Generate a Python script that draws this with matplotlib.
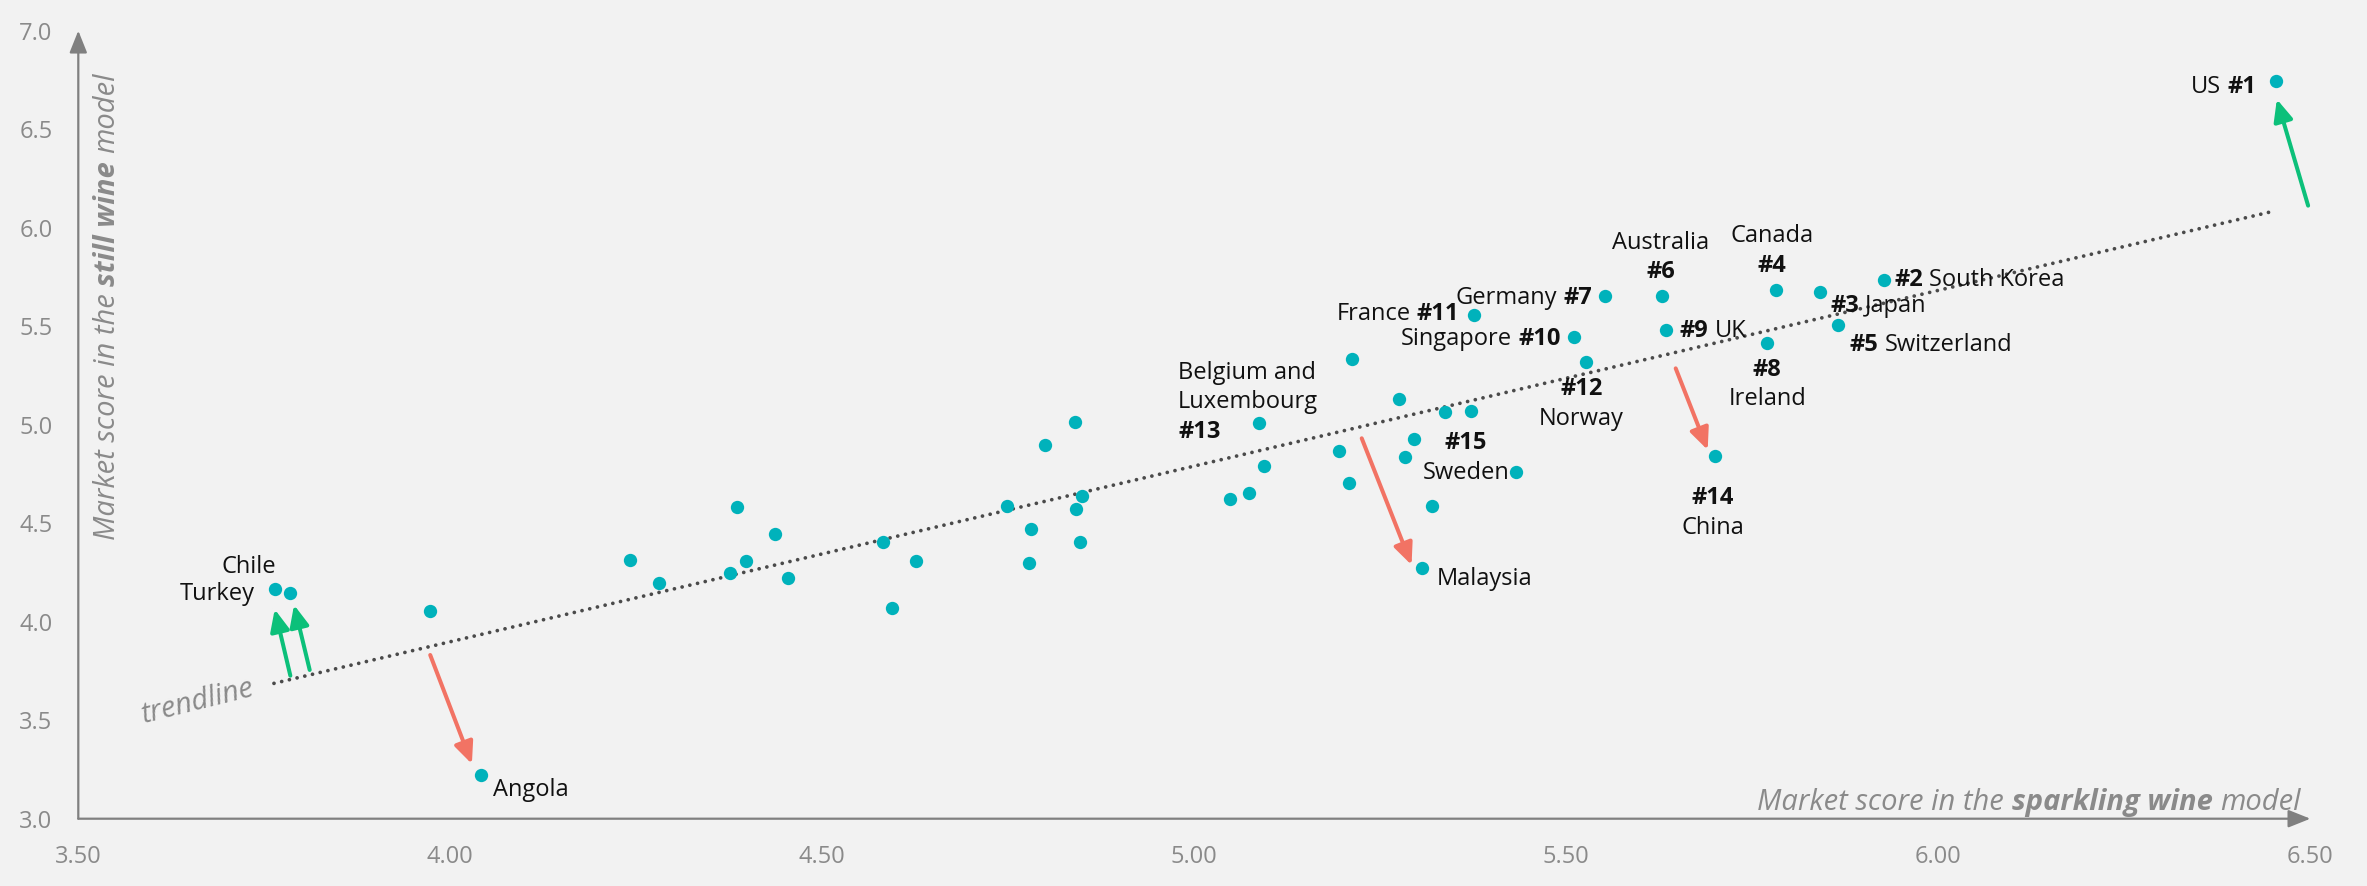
"""
Still wine vs sparkling wine market scores
Scatter of market scores with trendline, ranked markets and outlier arrows.
"""

import matplotlib.pyplot as plt
from matplotlib.offsetbox import TextArea, HPacker, VPacker, AnnotationBbox

# ============================================================================
# DATA
# ============================================================================
# Labelled markets: sparkling score (x), still score (y), rank
market_names = ['US', 'South Korea', 'Japan', 'Canada', 'Switzerland', 'Australia',
                'Germany', 'Ireland', 'UK', 'Singapore', 'France', 'Norway',
                'Belgium and\nLuxembourg', 'China', 'Sweden', 'Malaysia', 'Angola',
                'Turkey', 'Chile']
market_ranks = ['#1', '#2', '#3', '#4', '#5', '#6', '#7', '#8', '#9', '#10', '#11', '#12',
                '#13', '#14', '#15', '', '', '', '']
market_x = [6.454, 5.927, 5.841, 5.782, 5.865, 5.628, 5.552, 5.770, 5.634, 5.510, 5.376,
            5.526, 5.087, 5.700, 5.433, 5.306, 4.041, 3.764, 3.784]
market_y = [6.743, 5.736, 5.672, 5.684, 5.508, 5.653, 5.652, 5.416, 5.482, 5.445, 5.557,
            5.320, 5.009, 4.841, 4.760, 4.271, 3.222, 4.166, 4.147]

# Unlabelled markets
other_x = [3.973, 4.241, 4.280, 4.385, 4.437, 4.398, 4.376, 4.454, 4.582, 4.626, 4.594,
           4.748, 4.781, 4.778, 4.799, 4.840, 4.849, 4.841, 4.846, 5.212, 5.275, 5.337,
           5.372, 5.295, 5.283, 5.194, 5.208, 5.319, 5.094, 5.074, 5.048]
other_y = [4.056, 4.313, 4.198, 4.582, 4.445, 4.307, 4.249, 4.222, 4.406, 4.307, 4.070,
           4.586, 4.469, 4.298, 4.898, 5.014, 4.640, 4.571, 4.405, 5.334, 5.129, 5.064,
           5.068, 4.926, 4.836, 4.868, 4.704, 4.587, 4.789, 4.655, 4.623]

# Trendline end points
trend_x = [3.763, 6.453]
trend_y = [3.687, 6.086]

# Arrows (tail -> tip): green = above trend, red = below trend
up_from_x = [3.785, 3.811, 6.497]
up_from_y = [3.726, 3.755, 6.112]
up_to_x = [3.764, 3.790, 6.455]
up_to_y = [4.063, 4.085, 6.652]

down_from_x = [3.973, 5.225, 5.647]
down_from_y = [3.831, 4.931, 5.286]
down_to_x = [4.029, 5.292, 5.690]
down_to_y = [3.278, 4.288, 4.872]

x_ticks = [3.5, 4.0, 4.5, 5.0, 5.5, 6.0, 6.5]
y_ticks = [3.0, 3.5, 4.0, 4.5, 5.0, 5.5, 6.0, 6.5, 7.0]

# ============================================================================
# STYLE
# ============================================================================
plt.rcParams['font.family'] = ['Open Sans', 'DejaVu Sans']

BG = '#f2f2f2'
DOT_C = '#00b2bb'
TREND_C = '#4a4a4a'
AXIS_C = '#808080'
GREY_TXT = '#8a8a8a'
TEXT_C = '#111111'
GREEN = '#0cc07a'
RED = '#f27364'
LABEL_FS = 17
AXLABEL_FS = 21

# label layout: format, ha, va, line alignment, offset (points)
label_layout = {
    'US': ('name rank', 'right', 'center', 'center', (-14.4, -4.3)),
    'South Korea': ('rank name', 'left', 'center', 'center', (7.2, 0)),
    'Japan': ('rank name', 'left', 'center', 'center', (7.2, -10)),
    'Canada': ('name/rank', 'center', 'bottom', 'center', (-2.9, 8.6)),
    'Switzerland': ('rank name', 'left', 'center', 'center', (8.6, -15)),
    'Australia': ('name/rank', 'center', 'bottom', 'center', (-0.7, 8.6)),
    'Germany': ('name rank', 'right', 'center', 'center', (-9.4, -1.4)),
    'Ireland': ('rank/name', 'center', 'top', 'center', (0, -10.8)),
    'UK': ('rank name', 'left', 'center', 'center', (10, -0.7)),
    'Singapore': ('name rank', 'right', 'center', 'center', (-9.4, -1.4)),
    'France': ('name rank', 'right', 'center', 'center', (-10.8, 0.7)),
    'Norway': ('rank/name', 'center', 'top', 'center', (-2.9, -11.2)),
    'Belgium and\nLuxembourg': ('name/rank', 'left', 'bottom', 'left', (-58.3, -15.1)),
    'China': ('rank/name', 'center', 'top', 'center', (-1.4, -21.6)),
    'Sweden': ('rank/name', 'right', 'bottom', 'center', (-5, -9.4)),
    'Malaysia': ('name', 'left', 'center', 'center', (10.8, -8)),
    'Angola': ('name', 'left', 'center', 'center', (8.6, -10.8)),
    'Turkey': ('name', 'right', 'center', 'center', (-14.4, -3.6)),
    'Chile': ('name', 'right', 'center', 'center', (-9.4, 18.5)),
}

fig = plt.figure(figsize=(23.67, 8.86), dpi=100, facecolor=BG)
ax = fig.add_axes([0.03308, 0.07596, 0.9587, 0.9005])
ax.patch.set_visible(False)
ax.set_xlim(3.5, 6.55)
ax.set_ylim(3.0, 7.05)
for s in ax.spines.values():
    s.set_visible(False)

ax.set_xticks(x_ticks)
ax.set_xticklabels([f'{v:.2f}' for v in x_ticks])
ax.set_yticks(y_ticks)
ax.set_yticklabels([f'{v:.1f}' for v in y_ticks])
ax.tick_params(length=0, labelsize=17, labelcolor=GREY_TXT)
ax.tick_params(axis='x', pad=19)
ax.tick_params(axis='y', pad=18.5)

# axis arrows
axis_arrow = dict(arrowstyle='-|>,head_length=0.5,head_width=0.2', mutation_scale=27,
                  lw=1.6, color=AXIS_C, shrinkA=0, shrinkB=0)
ax.annotate('', xy=(x_ticks[-1], y_ticks[0]), xytext=(x_ticks[0], y_ticks[0]),
            arrowprops=axis_arrow, annotation_clip=False)
ax.annotate('', xy=(x_ticks[0], y_ticks[-1]), xytext=(x_ticks[0], y_ticks[0]),
            arrowprops=axis_arrow, annotation_clip=False)

# ============================================================================
# TRENDLINE, POINTS, ARROWS
# ============================================================================
ax.plot(trend_x, trend_y, color=TREND_C, lw=2.7, linestyle=(0, (0.01, 2.1)),
        dash_capstyle='round', zorder=1)
ax.text(3.661, 3.592, 'trendline', rotation=14, rotation_mode='anchor', ha='center',
        va='center', style='italic', fontsize=21, color=GREY_TXT)

ax.scatter(other_x + market_x, other_y + market_y, s=92, color=DOT_C, linewidths=0, zorder=3)

move_style = '-|>,head_length=0.45,head_width=0.2'
for x0, y0, x1, y1 in zip(up_from_x, up_from_y, up_to_x, up_to_y):
    ax.annotate('', xy=(x1, y1), xytext=(x0, y0), annotation_clip=False,
                arrowprops=dict(arrowstyle=move_style, mutation_scale=29, lw=2.9,
                                color=GREEN, shrinkA=0, shrinkB=0))
for x0, y0, x1, y1 in zip(down_from_x, down_from_y, down_to_x, down_to_y):
    ax.annotate('', xy=(x1, y1), xytext=(x0, y0), annotation_clip=False,
                arrowprops=dict(arrowstyle=move_style, mutation_scale=29, lw=2.9,
                                color=RED, shrinkA=0, shrinkB=0))

# ============================================================================
# MARKET LABELS (regular name + bold rank)
# ============================================================================
def run(txt, bold):
    return TextArea(txt, textprops=dict(fontsize=LABEL_FS, color=TEXT_C,
                                        fontweight='bold' if bold else 'normal'))


def row(runs):
    return HPacker(children=[run(t, b) for t, b in runs], sep=4.4, pad=0, align='baseline')


for name, rank, x, y in zip(market_names, market_ranks, market_x, market_y):
    fmt, ha, va, lalign, (dx, dy) = label_layout[name]
    name_rows = [row([(part, False)]) for part in name.split('\n')]
    if fmt == 'name rank':
        rows = [row([(name, False), (rank, True)])]
    elif fmt == 'rank name':
        rows = [row([(rank, True), (name, False)])]
    elif fmt == 'name/rank':
        rows = name_rows + [row([(rank, True)])]
    elif fmt == 'rank/name':
        rows = [row([(rank, True)])] + name_rows
    else:
        rows = name_rows
    box = rows[0] if len(rows) == 1 else VPacker(children=rows, sep=4, pad=0, align=lalign)
    bx = {'left': 0, 'center': 0.5, 'right': 1}[ha]
    by = {'bottom': 0, 'center': 0.5, 'top': 1}[va]
    ab = AnnotationBbox(box, (x, y), xybox=(dx, dy), xycoords='data',
                        boxcoords='offset points', box_alignment=(bx, by),
                        frameon=False, pad=0, annotation_clip=False)
    ax.add_artist(ab)

# ============================================================================
# AXIS TITLES (italic with bold part)
# ============================================================================
renderer = fig.canvas.get_renderer()


def text_width(s, weight):
    t = fig.text(0, 0, s, fontsize=AXLABEL_FS, style='italic', fontweight=weight)
    w = t.get_window_extent(renderer).width
    t.remove()
    return w


def axis_title(pieces, xy, along_end_px, across_px, vertical):
    gap = text_width('a a', 'normal') - text_width('aa', 'normal')
    widths = [text_width(t, w) for t, w in pieces]
    pos = along_end_px - (sum(widths) + gap * (len(pieces) - 1))
    k = 72 / fig.dpi
    for (t, w), width in zip(pieces, widths):
        if vertical:
            off = (across_px * k, pos * k)
            ax.annotate(t, xy=xy, xytext=off, textcoords='offset points', rotation=90,
                        rotation_mode='anchor', ha='left', va='center', style='italic',
                        fontweight=w, fontsize=AXLABEL_FS, color=GREY_TXT,
                        annotation_clip=False)
        else:
            off = (pos * k, across_px * k)
            ax.annotate(t, xy=xy, xytext=off, textcoords='offset points',
                        ha='left', va='baseline', style='italic',
                        fontweight=w, fontsize=AXLABEL_FS, color=GREY_TXT,
                        annotation_clip=False)
        pos += width + gap


axis_title([('Market score in the', 'normal'), ('sparkling wine', 'bold'), ('model', 'normal')],
           (x_ticks[-1], y_ticks[0]), -9.7, 8.7, vertical=False)
axis_title([('Market score in the', 'normal'), ('still wine', 'bold'), ('model', 'normal')],
           (x_ticks[0], y_ticks[-1]), -42, 28.7, vertical=True)

plt.savefig('out.png', dpi=100, facecolor=BG)
plt.close()
